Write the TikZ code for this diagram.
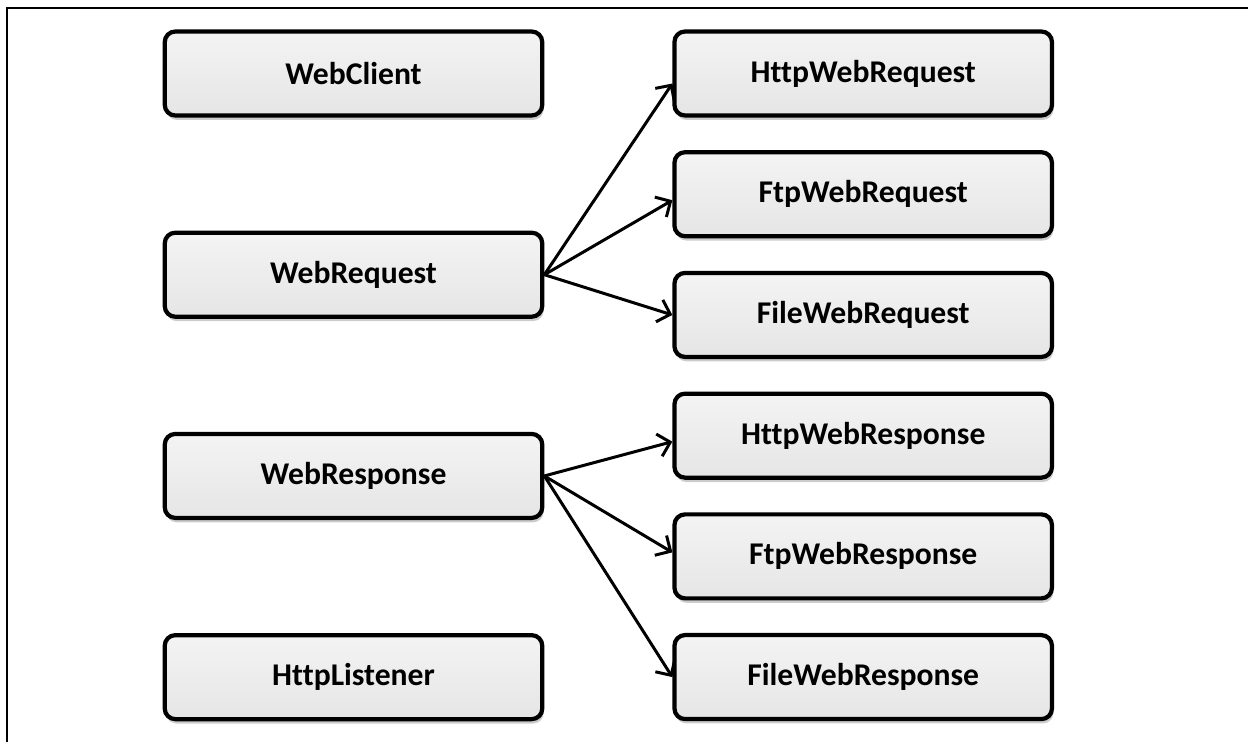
\documentclass[tikz,border=0pt]{standalone}
\usepackage{fontspec}
\setmainfont{Carlito}[Ligatures=NoCommon]
\usepackage{tikz}
\usetikzlibrary{positioning,shadows,arrows.meta}

\begin{document}
\begin{tikzpicture}[
node distance=0.65cm, classbox/.style={rectangle, draw=black, line width=2.4pt, rounded corners=6pt, minimum width=7.55cm, minimum height=1.68cm, align=center, top color=gray!9, bottom color=gray!20, font=\fontsize{18}{20}\selectfont\bfseries, drop shadow={shadow xshift=0.8pt, shadow yshift=-2.5pt, fill=gray, opacity=0.4}}, arrow/.style={->, >={Straight Barb[length=2.3mm, width=4.6mm]}, line width=1.7pt, black}, frame/.style={line width=1.2pt, black} ]
\useasboundingbox (0,0) rectangle (24.96,-14.84);
\draw[frame] (0.14,-14.84) |- (24.96,-0.16);
% left column
\node[classbox] (webclient) at (7.07,-1.47) {WebClient};
\node[classbox, below=2.26cm of webclient] (webrequest) {WebRequest};
\node[classbox, below=2.26cm of webrequest] (webresponse) {WebResponse};
\node[classbox, below=2.26cm of webresponse] (httplistener) {HttpListener};
% right column
\node[classbox, right=2.56cm of webclient] (httpwebrequest) {HttpWebRequest};
\node[classbox, below=of httpwebrequest] (ftpwebrequest) {FtpWebRequest};
\node[classbox, below=of ftpwebrequest] (filewebrequest) {FileWebRequest};
\node[classbox, below=of filewebrequest] (httpwebresponse) {HttpWebResponse};
\node[classbox, below=of httpwebresponse] (ftpwebresponse) {FtpWebResponse};
\node[classbox, below=of ftpwebresponse] (filewebresponse) {FileWebResponse};
\draw[arrow] (webrequest.east) -- ([yshift=-0.2cm]httpwebrequest.west);
\draw[arrow] (webrequest.east) -- ([yshift=-0.12cm]ftpwebrequest.west);
\draw[arrow] (webrequest.east) -- (filewebrequest.west);
\draw[arrow] (webresponse.east) -- ([yshift=-0.12cm]httpwebresponse.west);
\draw[arrow] (webresponse.east) -- ([yshift=0.08cm]ftpwebresponse.west);
\draw[arrow] (webresponse.east) -- (filewebresponse.west);
\end{tikzpicture}
\end{document}
